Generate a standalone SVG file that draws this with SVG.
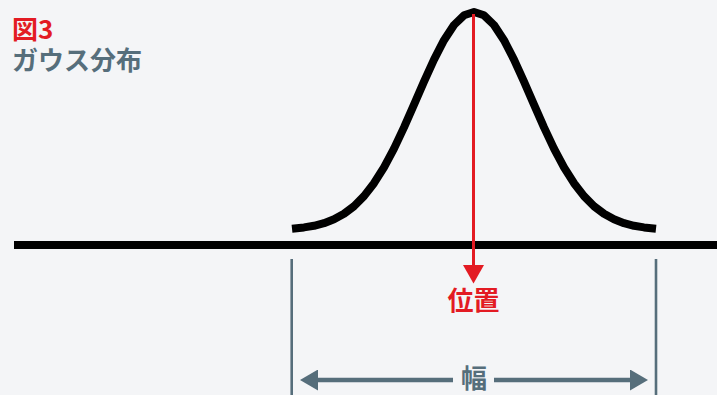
<svg xmlns="http://www.w3.org/2000/svg" width="717" height="395" viewBox="0 0 717 395">
<style>
.t{font-family:"Noto Sans CJK JP","Noto Sans",sans-serif;font-weight:bold;font-size:26px}
.red{fill:#e31b23}
.gry{fill:#566e7b}
.curve{fill:none;stroke:#000;stroke-width:8;stroke-linejoin:round}
.guide{stroke:#566e7b;stroke-width:2.6}
</style>
<defs>
<marker id="ar" viewBox="0 0 18 21" refX="0" refY="10.5" markerWidth="18" markerHeight="21" markerUnits="userSpaceOnUse" orient="auto">
<path d="M0,0 L18,10.5 L0,21 Z" fill="#566e7b"/>
</marker>
</defs>
<rect width="717" height="395" fill="#f4f5f7"/>
<g id="title">
<text class="t red" x="12" y="39">図3</text>
<text class="t gry" x="12" y="70">ガウス分布</text>
</g>
<g id="axis">
<rect x="14" y="241" width="703" height="8" fill="#000"/>
</g>
<g id="gaussian">
<path class="curve" d="M292,228.7 L304,227.4 L314,225.8 L324,223.2 L334,219.3 L344,213.8 L354,206.2 L364,196.1 L374,183.2 L384,167.3 L394,148.6 L404,127.4 L414,104.7 L424,81.6 L434,59.6 L444,40.2 L454,25 L464,15.3 L474,12 L484,15.3 L494,25 L504,40.2 L514,59.6 L524,81.6 L534,104.7 L544,127.4 L554,148.6 L564,167.3 L574,183.2 L584,196.1 L594,206.2 L604,213.8 L614,219.3 L624,223.2 L634,225.8 L644,227.4 L656,228.7"/>
</g>
<g id="connectors">
<line x1="473.5" y1="14" x2="473.5" y2="267" stroke="#e31b23" stroke-width="3"/>
<path d="M463,265 L484,265 L473.5,283.5 Z" fill="#e31b23"/>
<line class="guide" x1="291.7" y1="259" x2="291.7" y2="395"/>
<line class="guide" x1="656" y1="259" x2="656" y2="395"/>
<line x1="453" y1="380" x2="318" y2="380" stroke="#566e7b" stroke-width="4.5" marker-end="url(#ar)"/>
<line x1="494" y1="380" x2="630" y2="380" stroke="#566e7b" stroke-width="4.5" marker-end="url(#ar)"/>
</g>
<g id="position-label">
<text class="t red" x="473.5" y="310" text-anchor="middle">位置</text>
</g>
<g id="width-label">
<text class="t gry" x="474" y="388" text-anchor="middle">幅</text>
</g>
</svg>
